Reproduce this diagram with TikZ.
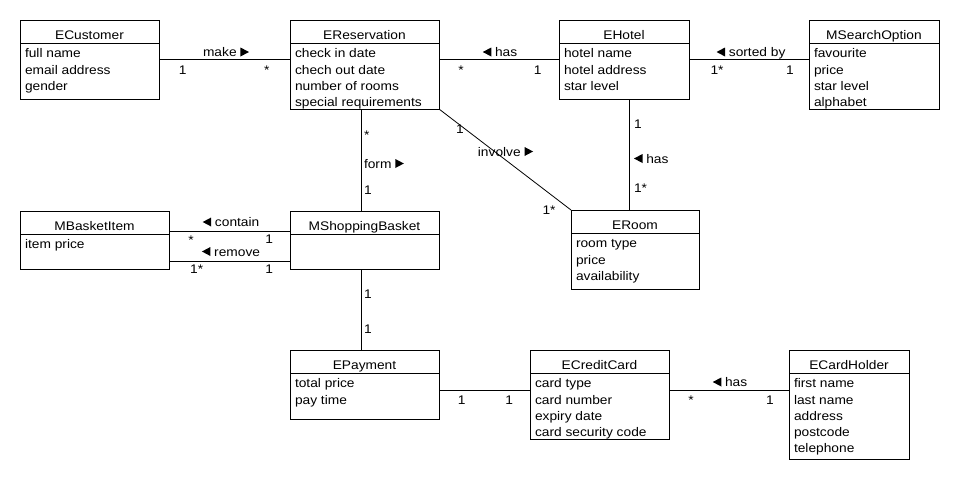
\documentclass[tikz,border=0pt]{standalone}
\usepackage{fontspec}
\setmainfont{Liberation Sans}[FakeStretch=1.1]
\newcommand{\rtri}{\tikz[baseline=0pt]\fill (0pt,0pt) -- (0pt,9pt) -- (8.5pt,4.5pt) -- cycle;}
\newcommand{\ltri}{\tikz[baseline=0pt]\fill (8.5pt,0pt) -- (8.5pt,9pt) -- (0pt,4.5pt) -- cycle;}
\newcommand{\umlclass}[7]{%
  \node[classbox, minimum width=#4pt, minimum height=#5pt] (#1) at (#2,#3) {};
  \draw[conn] ([yshift=-23pt]#1.north west) -- ([yshift=-23pt]#1.north east);
  \node[anchor=base] (#1-title) at ([yshift=-19.3pt]#1.north) {#6};
  \foreach \a [count=\i] in {#7} {\node[anchor=base west] (#1-\i) at ([xshift=5pt,yshift={-37.7pt-(\i-1)*16.3pt}]#1.north west) {\a};}%
}
\begin{document}
\begin{tikzpicture}[x=1pt,y=-1pt,
  every node/.style={font=\fontsize{12.5}{15}\selectfont, inner sep=0pt, outer sep=0pt},
  classbox/.style={draw, line width=1pt, rectangle, anchor=north west, fill=white},
  conn/.style={line width=1pt},
  lbl/.style={anchor=base},
  lblw/.style={anchor=base west}]
\useasboundingbox[fill=white] (0,0) rectangle (970,480);

% classes
\umlclass{cust}{20}{20}{139}{79}{ECustomer}{full name,email address,gender}
\umlclass{res}{290}{20}{149}{89}{EReservation}{check in date,chech out date,number of rooms,special requirements}
\umlclass{hotel}{559}{20}{130}{79}{EHotel}{hotel name,hotel address,star level}
\umlclass{search}{809}{20}{130}{89}{MSearchOption}{favourite,price,star level,alphabet}
\umlclass{item}{20}{211}{149}{58}{MBasketItem}{item price}
\node[classbox, minimum width=149pt, minimum height=58pt] (basket) at (290,211) {};
\draw[conn] ([yshift=-23pt]basket.north west) -- ([yshift=-23pt]basket.north east);
\node[anchor=base] (basket-title) at ([yshift=-19.3pt]basket.north) {MShoppingBasket};
\umlclass{room}{571}{210}{128}{79}{ERoom}{room type,price,availability}
\umlclass{pay}{290}{350}{149}{69}{EPayment}{total price,pay time}
\umlclass{cc}{530}{350}{139}{89}{ECreditCard}{card type,card number,expiry date,card security code}
\umlclass{ch}{789}{350}{120}{109}{ECardHolder}{first name,last name,address,postcode,telephone}

% connectors
\draw[conn] (cust.east) -- (cust.east -| res.west);
\draw[conn] (hotel.west) -- (hotel.west -| res.east);
\draw[conn] (hotel.east) -- (hotel.east -| search.west);
\draw[conn] ([xshift=-3.5pt]res.south) -- ([xshift=-3.5pt]basket.north);
\draw[conn] ([xshift=-3.5pt]basket.south) -- ([xshift=-3.5pt]pay.north);
\draw[conn] ([xshift=5.5pt]hotel.south) -- ([xshift=5.5pt]hotel.south |- room.north);
\draw[line width=0.8pt] (res.south east) -- (room.north west);
\draw[conn] ([yshift=-20pt]item.north east) -- ([yshift=-20pt]basket.north west);
\draw[conn] ([yshift=-50pt]item.north east) -- ([yshift=-50pt]basket.north west);
\draw[conn] ([yshift=-40.5pt]pay.north east) -- ([yshift=-40.5pt]pay.north east -| cc.west);
\draw[conn] ([yshift=-40.5pt]cc.north east) -- ([yshift=-40.5pt]cc.north east -| ch.west);

% association labels and multiplicities
\node[lbl] (l-make) at (226,56.5) {make \rtri};
\node[lbl] (m-make1) at (182.7,74.5) {1};
\node[lbl] (m-make2) at (266.7,74.5) {*};

\node[lbl] (l-has1) at (500,56.5) {\ltri\ has};
\node[lbl] (m-has1a) at (461,74.5) {*};
\node[lbl] (m-has1b) at (537.7,74.5) {1};

\node[lbl] (l-sort) at (751,56.5) {\ltri\ sorted by};
\node[lbl] (m-sorta) at (717,74.5) {1*};
\node[lbl] (m-sortb) at (790,74.5) {1};

\node[lblw] (m-forma) at (364,139) {*};
\node[lblw] (l-form) at (364,168) {form \rtri};
\node[lblw] (m-formb) at (364,194.5) {1};

\node[lbl] (m-inva) at (460,133.6) {1};
\node[lbl] (l-inv) at (505.5,156) {involve \rtri};
\node[lbl] (m-invb) at (549,214.3) {1*};

\node[lblw] (m-has2a) at (634,128.6) {1};
\node[lblw] (l-has2) at (634,163) {\ltri\ has};
\node[lblw] (m-has2b) at (634,192.6) {1*};

\node[lbl] (l-contain) at (231,226.5) {\ltri\ contain};
\node[lbl] (m-conta) at (191,244) {*};
\node[lbl] (m-contb) at (269.3,243.6) {1};

\node[lbl] (l-remove) at (231,256) {\ltri\ remove};
\node[lbl] (m-rema) at (196.7,273.6) {1*};
\node[lbl] (m-remb) at (269.3,273.6) {1};

\node[lblw] (m-paya) at (364,298.6) {1};
\node[lblw] (m-payb) at (364,333.6) {1};

\node[lbl] (m-cca) at (461.7,404.3) {1};
\node[lbl] (m-ccb) at (509.3,404.3) {1};

\node[lbl] (l-has3) at (730,386.5) {\ltri\ has};
\node[lbl] (m-has3a) at (691,404.3) {*};
\node[lbl] (m-has3b) at (770,404.3) {1};
\end{tikzpicture}
\end{document}
